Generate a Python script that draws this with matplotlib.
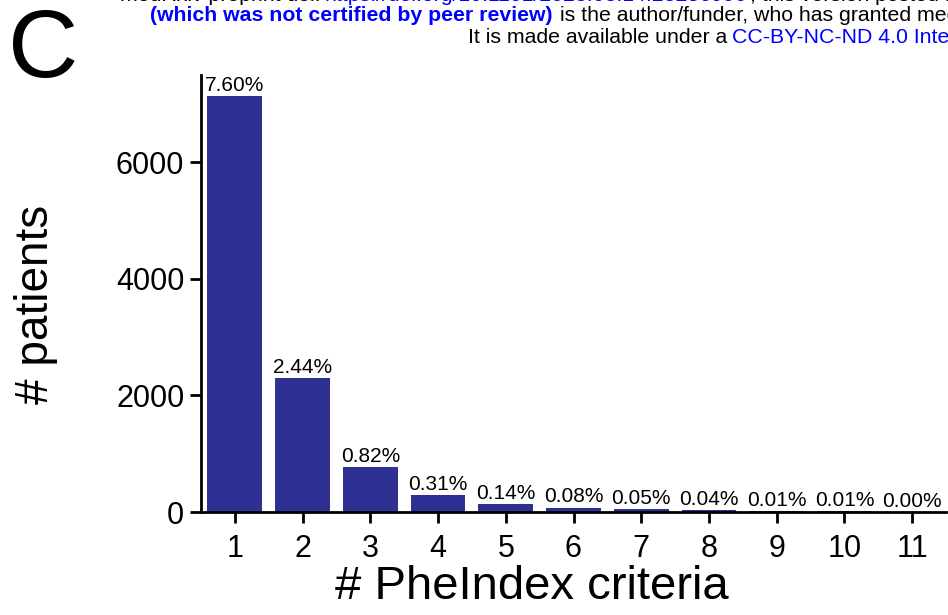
import matplotlib
matplotlib.use("Agg")
import matplotlib.pyplot as plt

# number of PheIndex criteria met vs number of patients
criteria = [1, 2, 3, 4, 5, 6, 7, 8, 9, 10, 11]
patients = [7140, 2295, 772, 292, 132, 75, 47, 38, 9, 9, 2]
pct_labels = ["7.60%", "2.44%", "0.82%", "0.31%", "0.14%", "0.08%",
              "0.05%", "0.04%", "0.01%", "0.01%", "0.00%"]
yticks = [0, 2000, 4000, 6000]

bar_color = "#2e3192"
link_blue = "#0000ff"

plt.rcParams["font.family"] = ["Liberation Sans", "DejaVu Sans"]

W, H = 948, 615
fig = plt.figure(figsize=(W / 100, H / 100), dpi=100)
ax = fig.add_axes([201 / W, 1 - 512 / H, (946 - 201) / W, (512 - 75) / H])

bars = ax.bar(criteria, patients, width=0.81, color=bar_color)
for b, lab in zip(bars, pct_labels):
    ax.text(b.get_x() + b.get_width() / 2, b.get_height() + 20, lab,
            ha="center", va="bottom", fontsize=15)

ax.set_xlim(0.5, 11.5)
ax.set_ylim(0, 7500)
ax.set_xticks(criteria)
ax.set_yticks(yticks)
ax.tick_params(labelsize=22, width=2, length=8)
ax.tick_params(axis="x", pad=8)
ax.tick_params(axis="y", pad=4)
for s in ["top", "right"]:
    ax.spines[s].set_visible(False)
for s in ["left", "bottom"]:
    ax.spines[s].set_linewidth(2)

fig.text(36 / W, 1 - 304 / H, "# patients", rotation=90, fontsize=33,
         ha="center", va="center")
fig.text(532 / W, 1 - 587 / H, "# PheIndex criteria", fontsize=34,
         ha="center", va="center")
fig.text(8 / W, 1 - 52 / H, "C", fontsize=70, ha="left", va="center")

# medRxiv watermark header (cut off at the edges)
hs = 15.3
fig.text(320 / W, 1 - 1 / H, "medRxiv preprint doi:", fontsize=hs,
         ha="right", va="baseline")
fig.text(325 / W, 1 - 1 / H, "https://doi.org/10.1101/2023.03.14.23286990",
         fontsize=hs, color=link_blue, ha="left", va="baseline")
fig.text(750 / W, 1 - 1 / H, ", this version posted March 16, 2023.",
         fontsize=hs, ha="left", va="baseline")
fig.text(553 / W, 1 - 21 / H, "(which was not certified by peer review)",
         fontsize=hs, fontweight="bold", color=link_blue,
         ha="right", va="baseline")
fig.text(560 / W, 1 - 21 / H,
         "is the author/funder, who has granted medRxiv a license",
         fontsize=hs, ha="left", va="baseline")
fig.text(727 / W, 1 - 43 / H, "It is made available under a",
         fontsize=hs, ha="right", va="baseline")
fig.text(732 / W, 1 - 43 / H, "CC-BY-NC-ND 4.0 International license",
         fontsize=hs, color=link_blue, ha="left", va="baseline")

fig.savefig("out.png", dpi=100)
